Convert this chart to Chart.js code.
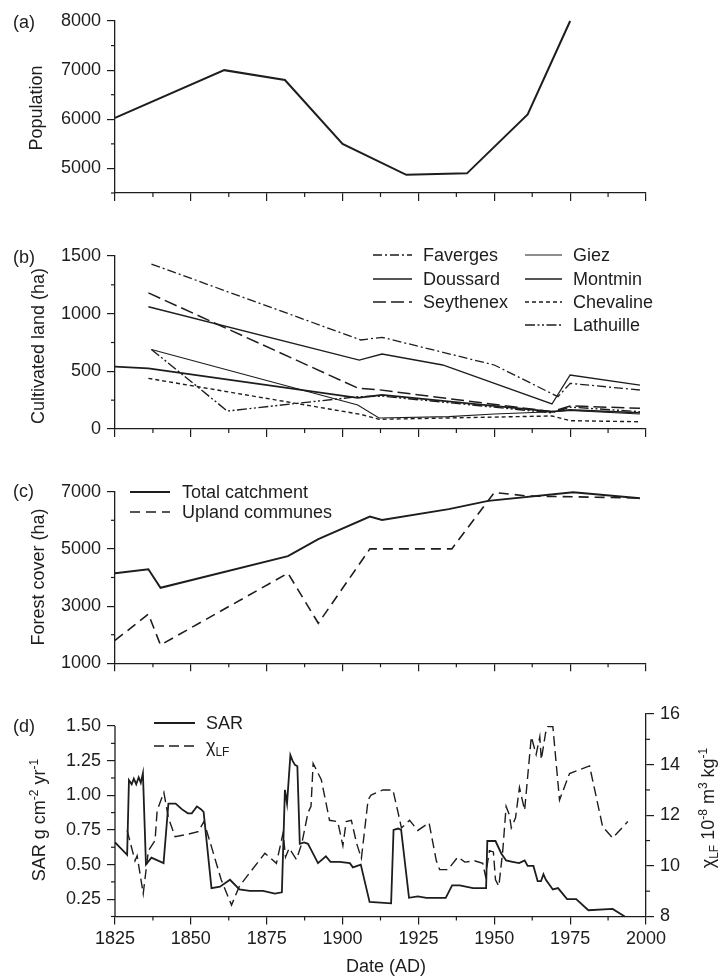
<!DOCTYPE html>
<html>
<head>
<meta charset="utf-8">
<script src="https://cdn.jsdelivr.net/npm/chart.js@4.4.1/dist/chart.umd.min.js"></script>
<style>
  html, body { margin: 0; padding: 0; background: #fff; }
  #fig { position: relative; width: 721px; height: 976px; overflow: hidden; }
  #fig canvas { position: absolute; left: 0; }
</style>
</head>
<body>
<div id="fig">
  <canvas id="popChart" width="721" height="225" style="top:0px"></canvas>
  <canvas id="cultChart" width="721" height="230" style="top:225px"></canvas>
  <canvas id="forestChart" width="721" height="230" style="top:455px"></canvas>
  <canvas id="sedChart" width="721" height="296" style="top:680px"></canvas>
</div>
<script>
// shared date axis
const dateTicks = [1825, 1850, 1875, 1900, 1925, 1950, 1975, 2000];
const dateMinor = [1837.5, 1862.5, 1887.5, 1912.5, 1937.5, 1962.5, 1987.5];

// (a) population
const popYears = [1825, 1861, 1881, 1900, 1921, 1941, 1961, 1975];
const popValues = [6030, 7000, 6800, 5500, 4870, 4900, 6100, 8000];
const popTicks = [5000, 6000, 7000, 8000];
const popMinor = [4500, 5500, 6500, 7500];

// (b) cultivated land per commune (ha)
const favergesYears = [1837, 1906, 1913, 1950, 1971, 1975, 1998];
const favergesHa = [1430, 772, 795, 555, 280, 396, 338];
const doussardYears = [1836, 1905.5, 1913, 1933, 1969, 1975, 1998];
const doussardHa = [1060, 598, 650, 555, 217, 468, 381];
const seythenexYears = [1836, 1905, 1912, 1969, 1975, 1998];
const seythenexHa = [1180, 355, 340, 150, 200, 180];
const giezYears = [1837, 1905, 1912, 1935, 1950, 1969, 1975, 1998];
const giezHa = [690, 208, 95, 107, 130, 150, 160, 130];
const montminYears = [1825, 1836, 1905, 1913, 1969, 1975, 1998];
const montminHa = [540, 526, 270, 295, 150, 165, 141];
const chevalineYears = [1836, 1906, 1912, 1969, 1975, 1998];
const chevalineHa = [439, 127, 84, 113, 72, 63];
const lathuilleYears = [1837, 1862, 1905, 1913, 1969, 1975, 1998];
const lathuilleHa = [690, 156, 280, 285, 140, 190, 150];
const cultTicks = [0, 500, 1000, 1500];
const cultMinor = [250, 750, 1250];

// (c) forest cover (ha)
const totalYears = [1825, 1836, 1840, 1882, 1892, 1909, 1913, 1935, 1948, 1976, 1998];
const totalHa = [4150, 4290, 3640, 4750, 5340, 6130, 6010, 6390, 6680, 6980, 6770];
const uplandYears = [1825, 1836, 1840, 1882, 1892, 1909, 1936, 1950, 1961, 1998];
const uplandHa = [1800, 2720, 1640, 4150, 2400, 5000, 5000, 6970, 6850, 6780];
const forestTicks = [1000, 3000, 5000, 7000];
const forestMinor = [2000, 4000, 6000];

// (d) sediment accumulation rate and magnetic susceptibility
const sarYears = [1825, 1829, 1829.6, 1830.5, 1831.2, 1832, 1832.8, 1833.5, 1834.2, 1835.2,
  1837, 1841, 1842.6, 1845, 1847, 1849, 1850.3, 1852, 1853.3, 1854.2,
  1856.8, 1859.6, 1862.9, 1866, 1869.4, 1873.8, 1877.7, 1880, 1881, 1881.7,
  1882.8, 1883.5, 1884.3, 1885.1, 1885.9, 1887.3, 1888.6, 1889.3, 1891.9, 1894.5,
  1896, 1899, 1902.4, 1903.4, 1906, 1908.9, 1916, 1916.8, 1918.3, 1919.3,
  1921.9, 1924.8, 1927.6, 1934, 1936.1, 1938.6, 1943, 1947.3, 1947.7, 1950.4,
  1952.3, 1953.9, 1956, 1958.2, 1960, 1961, 1962.9, 1964.3, 1965.4, 1966.2,
  1967, 1969.3, 1971, 1974, 1977, 1981, 1989, 1993];
const sarValues = [0.66, 0.57, 1.11, 1.08, 1.12, 1.08, 1.13, 1.09, 1.16, 0.50,
  0.55, 0.51, 0.94, 0.94, 0.90, 0.87, 0.87, 0.92, 0.90, 0.88,
  0.33, 0.34, 0.39, 0.32, 0.31, 0.31, 0.29, 0.30, 1.04, 0.94,
  1.29, 1.25, 1.22, 1.21, 0.65, 0.66, 0.65, 0.62, 0.51, 0.56,
  0.52, 0.52, 0.51, 0.48, 0.50, 0.23, 0.22, 0.75, 0.76, 0.75,
  0.26, 0.27, 0.26, 0.26, 0.35, 0.35, 0.33, 0.33, 0.67, 0.67,
  0.58, 0.53, 0.52, 0.51, 0.53, 0.49, 0.49, 0.38, 0.38, 0.43,
  0.39, 0.32, 0.33, 0.25, 0.25, 0.17, 0.18, 0.125];
const chiYears = [1829, 1831.6, 1832.3, 1834.3, 1836, 1838.2, 1838.9, 1841.1, 1842.6, 1844.8,
  1849, 1852.4, 1854.3, 1856.8, 1860, 1863.4, 1866, 1874.4, 1878.2, 1880.4,
  1881.2, 1882.4, 1884.8, 1886.6, 1888.6, 1889.6, 1890.3, 1893, 1895.7, 1898.4,
  1900.1, 1901.2, 1902.9, 1904.6, 1906.2, 1908.4, 1909.4, 1913.3, 1916.6, 1918.3,
  1919.4, 1922.1, 1924.8, 1928.5, 1930.9, 1932, 1934.7, 1938, 1940.3, 1943.5,
  1946.2, 1947.1, 1948.4, 1949.7, 1950.4, 1951.5, 1952.8, 1953.9, 1955, 1955.6,
  1957, 1958.3, 1960, 1962.2, 1963.8, 1965, 1965.5, 1966.9, 1967.6, 1969.3,
  1971.5, 1974.8, 1981.4, 1985.7, 1989, 1994];
const chiValues = [11.4, 10.2, 10.4, 8.9, 10.6, 11.0, 12.2, 12.9, 11.9, 11.15,
  11.25, 11.35, 11.75, 10.75, 9.45, 8.45, 9.2, 10.5, 10.1, 11.3,
  10.35, 10.7, 10.25, 10.9, 12.1, 12.35, 14.05, 13.4, 11.8, 11.75,
  10.8, 11.75, 11.8, 10.9, 10.3, 12.6, 12.8, 13.0, 13.0, 12.1,
  11.5, 11.8, 11.4, 11.7, 10.2, 9.85, 9.85, 10.35, 10.15, 10.2,
  10.1, 9.6, 10.6, 10.55, 9.45, 9.2, 10.6, 12.35, 12.0, 11.5,
  11.9, 13.1, 12.2, 15.1, 14.4, 15.1, 14.2, 15.25, 15.5, 15.5,
  12.6, 13.65, 13.95, 11.55, 11.1, 11.75];
const sarTicks = [0.25, 0.5, 0.75, 1.0, 1.25, 1.5];
const sarMinor = [0.125, 0.375, 0.625, 0.875, 1.125, 1.375];
const chiTicks = [8, 10, 12, 14, 16];
const chiMinor = [9, 11, 13, 15];

const INK = '#1d1d1d';
const FAMILY = '"Liberation Sans", Arial, Helvetica, sans-serif';
const FS = 18;
const tickFont = { family: FAMILY, size: FS };

function pts(xs, ys) {
  return xs.map((x, i) => ({ x: x, y: ys[i] }));
}

function line(label, xs, ys, width, dash, yAxisID) {
  return {
    label: label,
    data: pts(xs, ys),
    borderColor: INK,
    borderWidth: width,
    borderDash: dash || [],
    pointRadius: 0,
    tension: 0,
    fill: false,
    clip: 6,
    yAxisID: yAxisID || 'y'
  };
}

function xAxis(height, labelled) {
  return {
    type: 'linear', min: 1825, max: 2000,
    afterBuildTicks: s => { s.ticks = dateTicks.map(v => ({ value: v })); },
    afterFit: s => { s.height = height; },
    grid: { drawOnChartArea: false, tickLength: 8, color: INK, lineWidth: 1.2 },
    border: { color: INK, width: 1.3 },
    ticks: { display: labelled, color: INK, font: tickFont, padding: 4, maxRotation: 0,
      autoSkip: false, callback: v => String(v) }
  };
}

function yAxis(min, max, ticks, fmt, side, width) {
  return {
    type: 'linear', position: side, min: min, max: max,
    afterBuildTicks: s => { s.ticks = ticks.map(v => ({ value: v })); },
    afterFit: s => { s.width = width; },
    grid: { drawOnChartArea: false, tickLength: 8, color: INK, lineWidth: 1.2 },
    border: { color: INK, width: 1.3 },
    ticks: { color: INK, font: tickFont, padding: 6, callback: fmt }
  };
}

// short unlabelled ticks, plus an axis line limited to a value range
const minorTicks = {
  id: 'minorTicks',
  afterDraw(chart, args, opts) {
    const ctx = chart.ctx;
    ctx.save();
    ctx.strokeStyle = INK;
    ctx.lineWidth = 1.2;
    Object.keys(opts.marks || {}).forEach(id => {
      const s = chart.scales[id];
      opts.marks[id].forEach(v => {
        const p = s.getPixelForValue(v);
        ctx.beginPath();
        if (s.isHorizontal()) { ctx.moveTo(p, s.top); ctx.lineTo(p, s.top + 4); }
        else if (s.position === 'left') { ctx.moveTo(s.right, p); ctx.lineTo(s.right - 4, p); }
        else { ctx.moveTo(s.left, p); ctx.lineTo(s.left + 4, p); }
        ctx.stroke();
      });
    });
    if (opts.axisLine) {
      const s = chart.scales[opts.axisLine.id];
      ctx.lineWidth = 1.3;
      ctx.beginPath();
      ctx.moveTo(s.right, s.getPixelForValue(opts.axisLine.from));
      ctx.lineTo(s.right, s.getPixelForValue(opts.axisLine.to));
      ctx.stroke();
    }
    ctx.restore();
  }
};

// text made of plain, superscript and subscript runs, centred on (cx, cy)
function drawRuns(ctx, runs, cx, cy, rot, align) {
  const small = Math.round(FS * 0.68);
  let w = 0;
  runs.forEach(r => {
    ctx.font = (r.sup || r.sub ? small : FS) + 'px ' + FAMILY;
    r.w = ctx.measureText(r.t).width;
    w += r.w;
  });
  ctx.save();
  ctx.translate(cx, cy);
  ctx.rotate(rot);
  ctx.fillStyle = INK;
  ctx.textAlign = 'left';
  ctx.textBaseline = 'alphabetic';
  let x = align === 'left' ? 0 : -w / 2;
  const base = FS * 0.36;
  runs.forEach(r => {
    ctx.font = (r.sup || r.sub ? small : FS) + 'px ' + FAMILY;
    const dy = r.sup ? -FS * 0.4 : (r.sub ? FS * 0.22 : 0);
    ctx.fillText(r.t, x, base + dy);
    x += r.w;
  });
  ctx.restore();
}

const figText = {
  id: 'figText',
  afterDraw(chart, args, opts) {
    const ctx = chart.ctx;
    if (opts.panel) drawRuns(ctx, [{ t: opts.panel[2] }], opts.panel[0], opts.panel[1], 0, 'left');
    (opts.titles || []).forEach(t => drawRuns(ctx, t.runs, t.x, t.y, t.rot || 0, 'center'));
    (opts.legend || []).forEach(e => {
      const ds = chart.data.datasets[e.ds];
      ctx.save();
      ctx.strokeStyle = ds.borderColor;
      ctx.lineWidth = ds.borderWidth;
      ctx.setLineDash(ds.borderDash || []);
      ctx.beginPath();
      ctx.moveTo(e.x1, e.y);
      ctx.lineTo(e.x2, e.y);
      ctx.stroke();
      ctx.restore();
      drawRuns(ctx, e.runs || [{ t: ds.label }], e.tx, e.y, 0, 'left');
    });
  }
};

function makeChart(id, datasets, scales, pad, plugOpts) {
  return new Chart(document.getElementById(id), {
    type: 'line',
    data: { datasets: datasets },
    options: {
      responsive: false,
      animation: false,
      layout: { padding: pad },
      scales: scales,
      plugins: Object.assign({ legend: { display: false }, tooltip: { enabled: false } }, plugOpts)
    },
    plugins: [minorTicks, figText]
  });
}

const fmtInt = v => String(v);

// (a)
makeChart('popChart',
  [line('Population', popYears, popValues, 2)],
  { x: xAxis(32, false), y: yAxis(4500, 8000, popTicks, fmtInt, 'left', 115) },
  { top: 21, right: 75, left: 0, bottom: 0 },
  {
    minorTicks: { marks: { x: dateMinor, y: popMinor } },
    figText: {
      panel: [13, 22, '(a)'],
      titles: [{ runs: [{ t: 'Population' }], x: 36, y: 108, rot: -Math.PI / 2 }]
    }
  });

// (b)
makeChart('cultChart',
  [
    line('Faverges', favergesYears, favergesHa, 1.3, [9, 3, 2, 3]),
    line('Doussard', doussardYears, doussardHa, 1.3),
    line('Seythenex', seythenexYears, seythenexHa, 1.5, [13, 5]),
    line('Giez', giezYears, giezHa, 1.1),
    line('Montmin', montminYears, montminHa, 1.7),
    line('Chevaline', chevalineYears, chevalineHa, 1.4, [4, 3]),
    line('Lathuille', lathuilleYears, lathuilleHa, 1.4, [10, 2.5, 2, 2.5, 2, 2.5])
  ],
  { x: xAxis(26, false), y: yAxis(0, 1500, cultTicks, fmtInt, 'left', 115) },
  { top: 31, right: 75, left: 0, bottom: 0 },
  {
    minorTicks: { marks: { x: dateMinor, y: cultMinor } },
    figText: {
      panel: [13, 32, '(b)'],
      titles: [{ runs: [{ t: 'Cultivated land (ha)' }], x: 38, y: 121, rot: -Math.PI / 2 }],
      legend: [
        { ds: 0, x1: 373, x2: 412, tx: 423, y: 30 },
        { ds: 1, x1: 373, x2: 412, tx: 423, y: 54 },
        { ds: 2, x1: 373, x2: 412, tx: 423, y: 77 },
        { ds: 3, x1: 525, x2: 562, tx: 573, y: 30 },
        { ds: 4, x1: 525, x2: 562, tx: 573, y: 54 },
        { ds: 5, x1: 525, x2: 562, tx: 573, y: 77 },
        { ds: 6, x1: 525, x2: 562, tx: 573, y: 100 }
      ]
    }
  });

// (c)
makeChart('forestChart',
  [
    line('Total catchment', totalYears, totalHa, 1.9),
    line('Upland communes', uplandYears, uplandHa, 1.6, [10, 6])
  ],
  { x: xAxis(21.7, false), y: yAxis(1000, 7000, forestTicks, fmtInt, 'left', 115) },
  { top: 36.7, right: 75, left: 0, bottom: 0 },
  {
    minorTicks: { marks: { x: dateMinor, y: forestMinor } },
    figText: {
      panel: [13, 36, '(c)'],
      titles: [{ runs: [{ t: 'Forest cover (ha)' }], x: 38, y: 122, rot: -Math.PI / 2 }],
      legend: [
        { ds: 0, x1: 130, x2: 170, tx: 182, y: 37 },
        { ds: 1, x1: 130, x2: 170, tx: 182, y: 57 }
      ]
    }
  });

// (d)
makeChart('sedChart',
  [
    line('SAR', sarYears, sarValues, 1.8, [], 'y'),
    line('χLF', chiYears, chiValues, 1.4, [10, 5], 'y2')
  ],
  {
    x: xAxis(59.5, true),
    y: Object.assign(yAxis(0.125, 1.587, sarTicks, v => v.toFixed(2), 'left', 115),
      { border: { display: false } }),
    y2: yAxis(8, 16, chiTicks, fmtInt, 'right', 75)
  },
  { top: 34, right: 0, left: 0, bottom: 0 },
  {
    minorTicks: { marks: { x: dateMinor, y: sarMinor, y2: chiMinor },
      axisLine: { id: 'y', from: 0.125, to: 1.5 } },
    figText: {
      panel: [13, 46, '(d)'],
      titles: [
        { runs: [{ t: 'SAR g cm' }, { t: '-2', sup: true }, { t: ' yr' }, { t: '-1', sup: true }],
          x: 39, y: 140, rot: -Math.PI / 2 },
        { runs: [{ t: 'χ' }, { t: 'LF', sub: true }, { t: ' 10' }, { t: '-8', sup: true },
          { t: ' m' }, { t: '3', sup: true }, { t: ' kg' }, { t: '-1', sup: true }],
          x: 708, y: 128, rot: -Math.PI / 2 },
        { runs: [{ t: 'Date (AD)' }], x: 386, y: 286, rot: 0 }
      ],
      legend: [
        { ds: 0, x1: 154, x2: 195, tx: 206, y: 43 },
        { ds: 1, x1: 154, x2: 195, tx: 206, y: 66, runs: [{ t: 'χ' }, { t: 'LF', sub: true }] }
      ]
    }
  });
</script>
</body>
</html>
